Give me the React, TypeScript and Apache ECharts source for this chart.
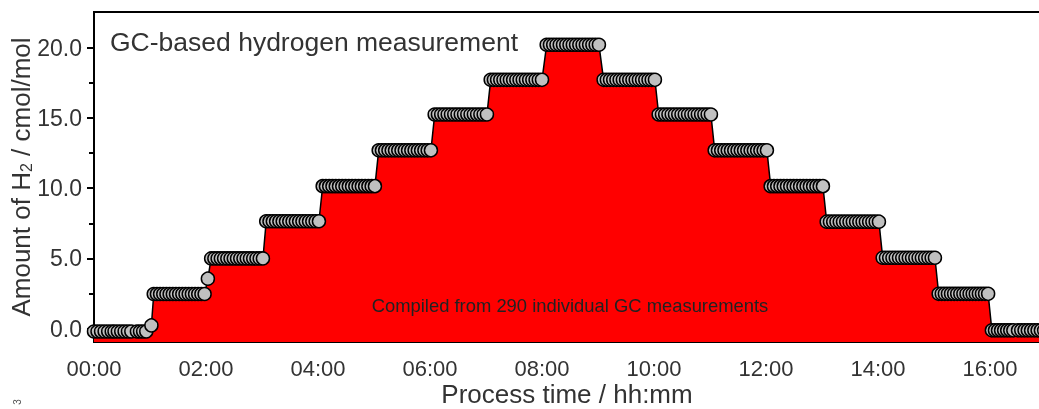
import React, { useEffect, useRef } from "react";
import * as echarts from "echarts";

// Step plateaus (time in minutes, value in cmol/mol)
const STEP_LEVELS = [-0.2, -0.2, -0.2, 0.23, 2.47, 3.56, 5.0, 7.65, 10.15, 12.7, 15.25, 17.72, 20.22, 17.72, 15.25, 12.7, 10.15, 7.62, 5.05, 2.48, -0.12, -0.12];
const STEP_START = [0, 22, 46, 61.5, 64, 122, 125.5, 184.5, 245, 305, 365, 425, 485, 546, 605, 665, 725, 785, 845, 905, 962, 990];
const STEP_END = [19, 40, 56, 61.5, 118.5, 122, 181, 241, 301, 361, 421, 480, 541, 601, 661, 721, 781, 841, 901, 958, 985, 1018];
const STEP_COUNT = [6, 6, 4, 1, 17, 1, 17, 17, 17, 17, 17, 17, 17, 17, 17, 17, 17, 17, 17, 17, 8, 9];

const Y_MAJOR = [0, 5, 10, 15, 20];
const Y_MINOR = [2.5, 7.5, 12.5, 17.5];

const TITLE = "GC-based hydrogen measurement";
const NOTE = "Compiled from 290 individual GC measurements";
const X_TITLE = "Process time / hh:mm";

function buildData(): [number, number][] {
  const out: [number, number][] = [];
  STEP_LEVELS.forEach((lvl, i) => {
    const n = STEP_COUNT[i];
    for (let k = 0; k < n; k++) {
      const t = n === 1 ? STEP_START[i] : STEP_START[i] + ((STEP_END[i] - STEP_START[i]) * k) / (n - 1);
      out.push([t, lvl]);
    }
  });
  return out;
}

const pad = (v: number) => (v < 10 ? "0" + v : "" + v);
const FONT = "Liberation Sans, Arial, Helvetica, sans-serif";

export default function App() {
  const ref = useRef<HTMLDivElement>(null);
  useEffect(() => {
    if (!ref.current) return;
    const chart = echarts.init(ref.current, undefined, { renderer: "svg" });
    chart.setOption({
      animation: false,
      grid: {
        left: 94,
        top: 12,
        right: -63,
        bottom: 67,
        containLabel: false,
        outerBoundsMode: "none",
        show: true,
        borderColor: "#000",
        borderWidth: 2,
        backgroundColor: "transparent",
      },
      xAxis: {
        type: "value",
        min: 0,
        max: 1080,
        interval: 120,
        axisLine: { show: true, lineStyle: { color: "#000", width: 2 } },
        axisTick: { show: true, length: 7, lineStyle: { color: "#000", width: 2 } },
        minorTick: { show: true, splitNumber: 2, length: 5, lineStyle: { color: "#000", width: 2 } },
        axisLabel: {
          fontSize: 22,
          color: "#333",
          fontFamily: FONT,
          margin: 15,
          showMaxLabel: false,
          formatter: (v: number) => pad(Math.floor(v / 60)) + ":" + pad(Math.round(v % 60)),
        },
        splitLine: { show: false },
      },
      yAxis: [
        {
          type: "value",
          min: -0.95,
          max: 22.55,
          position: "left",
          name: "Amount of H{sub|2} / cmol/mol",
          nameLocation: "middle",
          nameGap: 60,
          nameMoveOverlap: false,
          nameTextStyle: {
            fontSize: 26,
            color: "#333",
            fontFamily: FONT,
            rich: { sub: { fontSize: 16, color: "#333", fontFamily: FONT, padding: [10, 0, 0, 0] } },
          },
          axisLine: { show: true, lineStyle: { color: "#000", width: 2 } },
          axisTick: { show: true, length: 7, customValues: Y_MAJOR, lineStyle: { color: "#000", width: 2 } },
          axisLabel: {
            fontSize: 23,
            color: "#333",
            fontFamily: FONT,
            margin: 12,
            customValues: Y_MAJOR,
            formatter: (v: number) => v.toFixed(1),
          },
          splitLine: { show: false },
        },
        {
          type: "value",
          min: -0.95,
          max: 22.55,
          position: "left",
          axisLine: { show: false },
          axisTick: { show: true, length: 5, customValues: Y_MINOR, lineStyle: { color: "#000", width: 2 } },
          axisLabel: { show: false },
          splitLine: { show: false },
        },
      ],
      graphic: [
        {
          type: "text",
          x: 110,
          y: 42,
          style: { text: TITLE, fontSize: 26.5, fill: "#333", fontFamily: FONT, textVerticalAlign: "middle" },
          z: 10,
        },
        {
          type: "text",
          x: 570,
          y: 305,
          style: { text: NOTE, fontSize: 18.4, fill: "#222", fontFamily: FONT, textAlign: "center", textVerticalAlign: "middle" },
          z: 10,
        },
        {
          type: "text",
          x: 567,
          y: 394,
          style: { text: X_TITLE, fontSize: 26, fill: "#333", fontFamily: FONT, textAlign: "center", textVerticalAlign: "middle" },
          z: 10,
        },
        {
          type: "text",
          x: 17,
          y: 402,
          rotation: Math.PI / 2,
          style: { text: "3", fontSize: 10, fill: "#555", fontFamily: FONT, textAlign: "center", textVerticalAlign: "middle" },
        },
      ],
      series: [
        {
          type: "line",
          data: buildData(),
          symbol: "circle",
          symbolSize: 13,
          showAllSymbol: true,
          lineStyle: { color: "#000", width: 1.5 },
          itemStyle: { color: "#c0c0c0", borderColor: "#000", borderWidth: 1.5 },
          areaStyle: { color: "#ff0000", opacity: 1, origin: "start" },
          z: 3,
        },
      ],
    });
    return () => chart.dispose();
  }, []);
  return <div ref={ref} style={{ position: "fixed", left: 0, top: 0, width: 1039, height: 409 }} />;
}
